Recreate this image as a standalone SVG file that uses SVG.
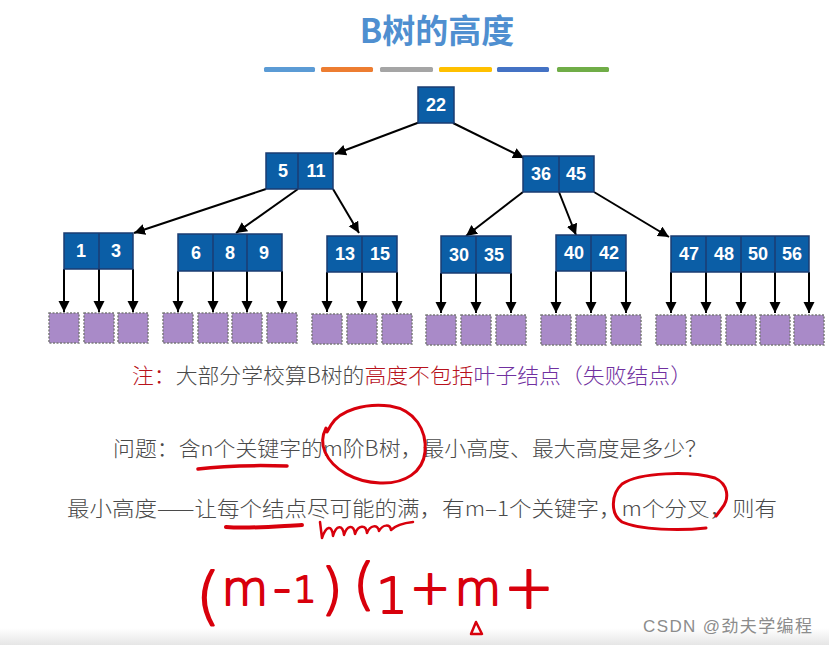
<svg xmlns="http://www.w3.org/2000/svg" width="829" height="645" viewBox="0 0 829 645">
<defs>
<marker id="ah" markerUnits="userSpaceOnUse" markerWidth="12" markerHeight="12" refX="11" refY="5.5" orient="auto">
<path d="M0,0 L11,5.5 L0,11 z" fill="#000"/>
</marker>
<linearGradient id="bg" x1="0" y1="0" x2="0" y2="1">
<stop offset="0" stop-color="#ffffff"/>
<stop offset="1" stop-color="#e6e6e6"/>
</linearGradient>
<style>
.k{fill:#0b5ea6;stroke:#1b3c72;stroke-width:1.5}
.d{stroke:#1b3c72;stroke-width:1.5}
.kt{font-family:"Liberation Sans",Arial,sans-serif;font-weight:bold;font-size:18px;fill:#fff;text-anchor:middle}
.leaf{fill:#a98ac8;stroke:#7a7a7a;stroke-width:1.5;stroke-dasharray:2 1.5}
.c{stroke:#000;stroke-width:2;fill:none;marker-end:url(#ah)}
.t{font-family:"Noto Sans CJK SC","Noto Sans",sans-serif;font-weight:300;font-size:21px;fill:#4a4a4a}
.hw{font-family:"DejaVu Sans",sans-serif;font-weight:200;fill:#d8000c;stroke:#d8000c;stroke-width:2;stroke-linejoin:round;text-anchor:middle}
.red{fill:none;stroke:#d8000c;stroke-linecap:round;stroke-linejoin:round}
</style>
</defs>
<rect width="829" height="645" fill="#fff"/>
<rect x="0" y="628" width="829" height="17" fill="url(#bg)"/>

<g id="title">
<text x="437" y="43" text-anchor="middle" font-family="'Noto Sans CJK SC','Noto Sans',sans-serif" font-weight="bold" font-size="33" fill="#4f8fd0">B树的高度</text>
<rect x="264" y="67" width="51" height="5" rx="1.5" fill="#5b9bd5"/>
<rect x="321" y="67" width="52" height="5" rx="1.5" fill="#ed7d31"/>
<rect x="380" y="67" width="53" height="5" rx="1.5" fill="#a5a5a5"/>
<rect x="439" y="67" width="53" height="5" rx="1.5" fill="#ffc000"/>
<rect x="497" y="67" width="52" height="5" rx="1.5" fill="#4472c4"/>
<rect x="557" y="67" width="52" height="5" rx="1.5" fill="#70ad47"/>
</g>

<g id="connectors">
<line class="c" x1="420" y1="122" x2="335" y2="154"/>
<line class="c" x1="453" y1="123" x2="524" y2="158"/>
<line class="c" x1="266" y1="189" x2="134" y2="233"/>
<line class="c" x1="298" y1="189" x2="236" y2="233"/>
<line class="c" x1="333" y1="189" x2="359" y2="233"/>
<line class="c" x1="523" y1="192" x2="466" y2="236"/>
<line class="c" x1="559" y1="192" x2="576" y2="235"/>
<line class="c" x1="594" y1="192" x2="669" y2="237"/>
<line class="c" x1="64" y1="269" x2="64" y2="312"/>
<line class="c" x1="99" y1="269" x2="99" y2="312"/>
<line class="c" x1="133" y1="269" x2="133" y2="312"/>
<line class="c" x1="178" y1="271" x2="178" y2="312"/>
<line class="c" x1="213" y1="271" x2="213" y2="312"/>
<line class="c" x1="247" y1="271" x2="247" y2="312"/>
<line class="c" x1="282" y1="271" x2="282" y2="312"/>
<line class="c" x1="327" y1="272" x2="327" y2="312"/>
<line class="c" x1="362" y1="272" x2="362" y2="312"/>
<line class="c" x1="397" y1="272" x2="397" y2="312"/>
<line class="c" x1="441" y1="273" x2="441" y2="313"/>
<line class="c" x1="476" y1="273" x2="476" y2="313"/>
<line class="c" x1="511" y1="273" x2="511" y2="313"/>
<line class="c" x1="556" y1="271" x2="556" y2="313"/>
<line class="c" x1="591" y1="271" x2="591" y2="313"/>
<line class="c" x1="626" y1="271" x2="626" y2="313"/>
<line class="c" x1="671" y1="272" x2="671" y2="313"/>
<line class="c" x1="706" y1="272" x2="706" y2="313"/>
<line class="c" x1="741" y1="272" x2="741" y2="313"/>
<line class="c" x1="775" y1="272" x2="775" y2="313"/>
<line class="c" x1="809" y1="272" x2="809" y2="313"/>
</g>

<g id="n22">
<rect class="k" x="418" y="87" width="36" height="36"/>
<text class="kt" x="436" y="111">22</text>
</g>
<g id="n5_11">
<rect class="k" x="266" y="153" width="67" height="36"/>
<line class="d" x1="298" y1="153" x2="298" y2="189"/>
<text class="kt" x="283" y="177">5</text>
<text class="kt" x="316" y="177">11</text>
</g>
<g id="n36_45">
<rect class="k" x="523" y="156" width="71" height="36"/>
<line class="d" x1="559" y1="156" x2="559" y2="192"/>
<text class="kt" x="541" y="180">36</text>
<text class="kt" x="576" y="180">45</text>
</g>
<g id="n1_3">
<rect class="k" x="64" y="233" width="69" height="36"/>
<line class="d" x1="99" y1="233" x2="99" y2="269"/>
<text class="kt" x="81" y="257">1</text>
<text class="kt" x="116" y="257">3</text>
</g>
<g id="n6_8_9">
<rect class="k" x="178" y="234" width="104" height="37"/>
<line class="d" x1="213" y1="234" x2="213" y2="271"/>
<line class="d" x1="247" y1="234" x2="247" y2="271"/>
<text class="kt" x="196" y="259">6</text>
<text class="kt" x="230" y="259">8</text>
<text class="kt" x="264" y="259">9</text>
</g>
<g id="n13_15">
<rect class="k" x="327" y="236" width="70" height="36"/>
<line class="d" x1="362" y1="236" x2="362" y2="272"/>
<text class="kt" x="345" y="260">13</text>
<text class="kt" x="380" y="260">15</text>
</g>
<g id="n30_35">
<rect class="k" x="441" y="236" width="70" height="37"/>
<line class="d" x1="476" y1="236" x2="476" y2="273"/>
<text class="kt" x="459" y="261">30</text>
<text class="kt" x="494" y="261">35</text>
</g>
<g id="n40_42">
<rect class="k" x="556" y="235" width="70" height="36"/>
<line class="d" x1="591" y1="235" x2="591" y2="271"/>
<text class="kt" x="574" y="259">40</text>
<text class="kt" x="609" y="259">42</text>
</g>
<g id="n47_56">
<rect class="k" x="671" y="236" width="138" height="36"/>
<line class="d" x1="706" y1="236" x2="706" y2="272"/>
<line class="d" x1="741" y1="236" x2="741" y2="272"/>
<line class="d" x1="775" y1="236" x2="775" y2="272"/>
<text class="kt" x="689" y="260">47</text>
<text class="kt" x="724" y="260">48</text>
<text class="kt" x="758" y="260">50</text>
<text class="kt" x="792" y="260">56</text>
</g>

<g id="leaves">
<rect class="leaf" x="49" y="313" width="30" height="30"/>
<rect class="leaf" x="84" y="313" width="30" height="30"/>
<rect class="leaf" x="118" y="313" width="30" height="30"/>
<rect class="leaf" x="163" y="313" width="30" height="30"/>
<rect class="leaf" x="198" y="313" width="30" height="30"/>
<rect class="leaf" x="232" y="313" width="30" height="30"/>
<rect class="leaf" x="267" y="313" width="30" height="30"/>
<rect class="leaf" x="312" y="314" width="30" height="30"/>
<rect class="leaf" x="347" y="314" width="30" height="30"/>
<rect class="leaf" x="382" y="314" width="30" height="30"/>
<rect class="leaf" x="426" y="315" width="30" height="30"/>
<rect class="leaf" x="461" y="315" width="30" height="30"/>
<rect class="leaf" x="496" y="315" width="30" height="30"/>
<rect class="leaf" x="541" y="315" width="30" height="30"/>
<rect class="leaf" x="576" y="315" width="30" height="30"/>
<rect class="leaf" x="611" y="315" width="30" height="30"/>
<rect class="leaf" x="656" y="315" width="30" height="30"/>
<rect class="leaf" x="691" y="315" width="30" height="30"/>
<rect class="leaf" x="726" y="315" width="30" height="30"/>
<rect class="leaf" x="760" y="315" width="30" height="30"/>
<rect class="leaf" x="794" y="315" width="30" height="30"/>
</g>

<g id="texts">
<text class="t" x="132" y="383" textLength="560" lengthAdjust="spacingAndGlyphs"><tspan fill="#b8121c">注：</tspan>大部分学校算B树的<tspan fill="#b8121c">高度不包括</tspan><tspan fill="#7030a0">叶子结点（失败结点）</tspan></text>
<text class="t" x="113" y="456" textLength="594" lengthAdjust="spacingAndGlyphs">问题：含n个关键字的m阶B树，最小高度、最大高度是多少？</text>
<text class="t" x="67" y="516" textLength="710" lengthAdjust="spacingAndGlyphs">最小高度——让每个结点尽可能的满，有m–1个关键字，m个分叉，则有</text>
</g>

<g id="annotations">
<path class="red" stroke-width="3.5" d="M198,469 C220,466 250,465 287,466"/>
<path class="red" stroke-width="3" d="M327,432 L331,425 C340,410 365,403 390,406 C415,410 427,430 425,452 C423,472 405,484 380,483 C355,482 333,470 325,452 C321,443 322,436 326,428"/>
<path class="red" stroke-width="4" d="M226,527 C250,529 280,526 302,525"/>
<path class="red" stroke-width="2.5" d="M320,522 L322,538 C326,526 332,524 333,536 C336,525 343,524 344,535 C347,525 354,524 355,534 C358,525 366,524 367,533 C370,525 378,524 379,531 C383,524 390,524 391,530 C396,525 404,523 413,522"/>
<path class="red" stroke-width="3" d="M706,528 C680,531 640,530 622,522 C610,514 611,494 622,484 C640,472 690,471 715,478 C728,484 730,498 722,508 L716,516"/>
</g>

<g id="formula">
<text class="hw"><tspan x="208" y="617" font-size="62">(</tspan><tspan x="245" y="605" font-size="48">m</tspan><tspan x="282" y="605" font-size="50">-</tspan><tspan x="305" y="602" font-size="36">1</tspan><tspan x="332" y="608" font-size="56">)</tspan><tspan x="364" y="603" font-size="56">(</tspan><tspan x="392" y="613" font-size="50">1</tspan><tspan x="430" y="604" font-size="48">+</tspan><tspan x="478" y="605" font-size="48">m</tspan><tspan x="529" y="608" font-size="60">+</tspan></text>
<path class="red" stroke-width="2.5" d="M471,634 L476,622 L482,634 Z"/>
</g>

<text x="643" y="632" textLength="169" font-family="'Liberation Sans','Noto Sans CJK SC',sans-serif" font-size="17" fill="#8c8c8c">CSDN @劲夫学编程</text>
</svg>
